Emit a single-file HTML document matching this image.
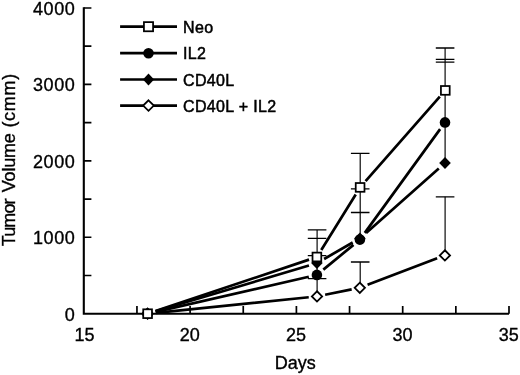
<!DOCTYPE html>
<html><head><meta charset="utf-8"><style>
html,body{margin:0;padding:0;background:#fff;}
svg{display:block;filter:grayscale(1);}
text{font-family:"Liberation Sans",sans-serif;font-size:18px;fill:#000;stroke:#000;stroke-width:0.35px;}
.lg{font-size:16px;stroke:#000;stroke-width:0.5px;letter-spacing:0.35px;}
.yl{letter-spacing:0.6px;}
</style></head><body>
<svg width="520" height="375" viewBox="0 0 520 375">
<rect width="520" height="375" fill="#fff"/>
<path d="M83.8 7.13V313.7H509" stroke="#000" stroke-width="2.1" fill="none" stroke-linejoin="miter"/>
<path d="M83.8 275.49H91.4M83.8 237.27H91.4M83.8 199.06H91.4M83.8 160.84H91.4M83.8 122.62H91.4M83.8 84.41H91.4M83.8 46.19H91.4M83.8 7.98H91.4" stroke="#000" stroke-width="1.7" fill="none"/>
<path d="M136.95 313.7V306.1M190.1 313.7V306.1M243.25 313.7V306.1M296.4 313.7V306.1M349.55 313.7V306.1M402.7 313.7V306.1M455.85 313.7V306.1M509 313.7V306.1" stroke="#000" stroke-width="1.7" fill="none"/>
<text x="75.4" y="320.6" text-anchor="end" class="yl">0</text><text x="75.4" y="244.17" text-anchor="end" class="yl">1000</text><text x="75.4" y="167.74" text-anchor="end" class="yl">2000</text><text x="75.4" y="91.31" text-anchor="end" class="yl">3000</text><text x="75.4" y="14.88" text-anchor="end" class="yl">4000</text>
<text x="84.4" y="341.2" text-anchor="middle">15</text><text x="189.8" y="341.2" text-anchor="middle">20</text><text x="296.1" y="341.2" text-anchor="middle">25</text><text x="402.4" y="341.2" text-anchor="middle">30</text><text x="508.7" y="341.2" text-anchor="middle">35</text>
<text x="295.3" y="368.9" text-anchor="middle">Days</text>
<g transform="translate(15.4 245.5) rotate(-90)"><text x="-0.7" textLength="47.8" lengthAdjust="spacing">Tumor</text><text x="53.3" textLength="59.0" lengthAdjust="spacing">Volume</text><text x="117.9" textLength="53.8" lengthAdjust="spacing">(cmm)</text></g>
<path d="M317.1 257V229.9M317.1 274.9V238.3M317.1 263.7V255.7M317.1 296.4V278.6M360.2 187.4V153.3M360.2 238.6V188.9M360.2 239.4V212.5M360.2 287.8V262M445.1 90.4V48M445.1 122.4V59.4M445.1 163V62.2M445.1 255.4V196.8" stroke="#000" stroke-width="1.15" fill="none"/>
<path d="M307.8 229.9H326.4M307.8 238.3H326.4M307.8 255.7H326.4M307.8 278.6H326.4M350.9 153.3H369.5M350.9 188.9H369.5M350.9 212.5H369.5M350.9 262H369.5M435.8 48H454.4M435.8 59.4H454.4M435.8 62.2H454.4M435.8 196.8H454.4" stroke="#000" stroke-width="1.3" fill="none"/>
<g stroke="#000" stroke-width="2.7" fill="none">
<path d="M155.47 311.06L309.03 259.64M321.28 249.95L355.72 194.45M365.58 181.16L439.82 96.64"/>
<path d="M155.69 311.85L308.81 276.75M323.32 269.63L353.48 244.87M364.78 232.88L440.12 129.12"/>
<path d="M155.55 311.32L308.95 265.48M324.1 258.97L352.7 242.53M366.11 232.9L438.79 168.5"/>
<path d="M155.86 312.86L308.74 297.24M325.14 294.76L351.66 289.44M367.56 284.85L437.14 258.35"/>
</g>
<path d="M147.6 307.8L153.4 313.7L147.6 319.6L141.8 313.7Z" fill="#000"/><path d="M316.9 257.2L322.7 263.1L316.9 269L311.1 263.1Z" fill="#000"/><path d="M359.9 232.5L365.7 238.4L359.9 244.3L354.1 238.4Z" fill="#000"/><path d="M445 157.1L450.8 163L445 168.9L439.2 163Z" fill="#000"/><circle cx="147.6" cy="313.7" r="5.3" fill="#000"/><circle cx="316.9" cy="274.9" r="5.3" fill="#000"/><circle cx="359.9" cy="239.6" r="5.3" fill="#000"/><circle cx="445" cy="122.4" r="5.3" fill="#000"/><path d="M147.6 308.56L152.74 313.7L147.6 318.84L142.46 313.7Z" fill="#fff" stroke="#000" stroke-width="1.8" stroke-linejoin="miter"/><path d="M317 291.26L322.14 296.4L317 301.54L311.86 296.4Z" fill="#fff" stroke="#000" stroke-width="1.8" stroke-linejoin="miter"/><path d="M359.8 282.66L364.94 287.8L359.8 292.94L354.66 287.8Z" fill="#fff" stroke="#000" stroke-width="1.8" stroke-linejoin="miter"/><path d="M444.9 250.26L450.04 255.4L444.9 260.54L439.76 255.4Z" fill="#fff" stroke="#000" stroke-width="1.8" stroke-linejoin="miter"/><rect x="143.22" y="309.32" width="8.75" height="8.75" fill="#fff" stroke="#000" stroke-width="1.75"/><rect x="312.52" y="252.62" width="8.75" height="8.75" fill="#fff" stroke="#000" stroke-width="1.75"/><rect x="355.73" y="183.03" width="8.75" height="8.75" fill="#fff" stroke="#000" stroke-width="1.75"/><rect x="440.93" y="86.03" width="8.75" height="8.75" fill="#fff" stroke="#000" stroke-width="1.75"/>
<path d="M120.1 26.7H177" stroke="#000" stroke-width="2.7" fill="none"/><rect x="143.93" y="22.12" width="9.15" height="9.15" fill="#fff" stroke="#000" stroke-width="1.75"/><text x="183" y="32.9" class="lg">Neo</text><path d="M120.1 53.2H177" stroke="#000" stroke-width="2.7" fill="none"/><circle cx="148.5" cy="53.2" r="5.3" fill="#000"/><text x="183" y="59.4" class="lg">IL2</text><path d="M120.1 79.5H177" stroke="#000" stroke-width="2.7" fill="none"/><path d="M148.5 73.5L154.1 79.5L148.5 85.5L142.9 79.5Z" fill="#000"/><text x="183" y="85.7" class="lg">CD40L</text><path d="M120.1 105.6H177" stroke="#000" stroke-width="2.7" fill="none"/><path d="M148.5 100.36L153.84 105.6L148.5 110.84L143.16 105.6Z" fill="#fff" stroke="#000" stroke-width="1.8" stroke-linejoin="miter"/><text x="183" y="111.8" class="lg">CD40L + IL2</text>
</svg>
</body></html>
